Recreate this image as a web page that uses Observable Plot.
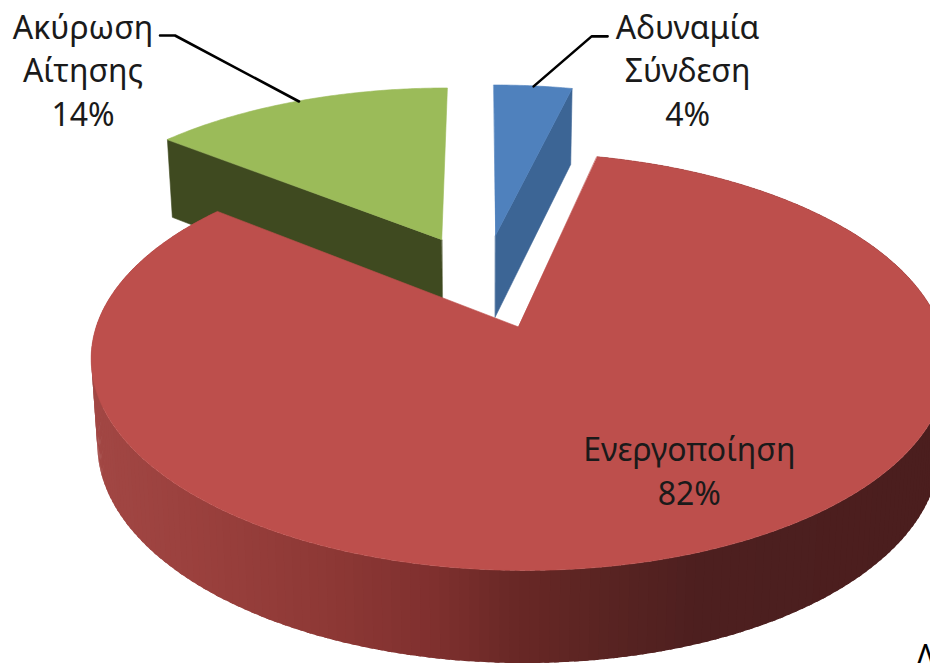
<!DOCTYPE html>
<html>
<head>
<meta charset="utf-8">
<script src="https://cdn.jsdelivr.net/npm/d3@7"></script>
<script src="https://cdn.jsdelivr.net/npm/@observablehq/plot@0.6"></script>
<style>
html,body{margin:0;padding:0;background:#fff;overflow:hidden}
svg{display:block}
</style>
</head>
<body>
<div id="chart"></div>
<script>
// Data: shares (labels are rounded to whole percent)
const categories = ["Αδυναμία\nΣύνδεση", "Ενεργοποίηση", "Ακύρωση\nΑίτησης"];
const shares = [3.7, 82.1, 14.2];
const topColors = ["#4f81bd", "#bd4f4c", "#9bbb59"];
const sideColors = ["#3c6595", null, "#3f4a20"];
const rimStops = [90, 200, 330, 430, 510, 600, 700, 930];
const rimColors = ["#a24744", "#9a403d", "#8d3835", "#80302f", "#6a2826", "#5a2422", "#4d1f1f", "#4b1e1e"];
const labelOffsets = [[154, -18], [2, -86], [-216, -33]];
const leaderOffsets = [[[58, -50], [74, -50]], null, [[-124, -66], [-139, -66]]];
const clippedText = "Λ";

// Projection of the tilted, exploded pie onto the chart's coordinate system
const view = {x0: 484, y0: 280.6, radius: 406, tilt: 188, perspective: 0.16, explode: 0.25, depth: 83, taper: 0.00019};
function project(X, Y, down = 0) {
  const s = 1 / (1 + view.perspective * Y);
  return {
    x: view.x0 + view.radius * X * s * (1 - view.taper * down),
    y: view.y0 - view.tilt * Y * s + down * Math.sqrt(s)
  };
}

const total = d3.sum(shares);
let cumulative = 0;
const slices = shares.map((v, i) => {
  const a0 = cumulative / total * 2 * Math.PI;
  cumulative += v;
  const a1 = cumulative / total * 2 * Math.PI;
  const mid = (a0 + a1) / 2;
  const cx = view.explode * Math.sin(mid), cy = view.explode * Math.cos(mid);
  const at = (a, down = 0) => project(cx + Math.sin(a), cy + Math.cos(a), down);
  return {i, a0, a1, mid, cx, cy, at, value: v, apex: project(cx, cy), apexDown: project(cx, cy, view.depth)};
});

// Top face of a slice: a fan from the apex to the arc
function fan(s) {
  const n = Math.ceil((s.a1 - s.a0) / 0.01);
  return d3.range(n + 1).map(k => {
    const p = s.at(s.a0 + (s.a1 - s.a0) * k / n);
    return {x1: p.x, y1: p.y, x2: s.apex.x, y2: s.apex.y};
  });
}
// Straight radial wall of a slice at angle a
function wall(s, a) {
  const t = s.at(a), b = s.at(a, view.depth);
  return [
    {x1: s.apex.x, y1: s.apex.y, x2: s.apexDown.x, y2: s.apexDown.y},
    {x1: t.x, y1: t.y, x2: b.x, y2: b.y}
  ];
}
// Banded outer rim of the big slice; each band runs under the next one, so no seams show
const rimColor = d3.scaleLinear().domain(rimStops).range(rimColors).clamp(true);
function rim(s) {
  const step = 0.02;
  const n = Math.ceil((s.a1 - s.a0) / step);
  const angle = k => s.a0 + (s.a1 - s.a0) * Math.min(k, n) / n;
  const out = [];
  for (let k = 0; k < n; k++) {
    const color = d3.color(rimColor(s.at(angle(k + 0.5)).x)).formatHex();
    for (const j of [0, 0.5, 1, 1.5]) {
      const t = s.at(angle(k + j)), d = s.at(angle(k + j), view.depth);
      out.push({band: k, color, x1: t.x, y1: t.y, x2: d.x, y2: d.y});
    }
  }
  return out;
}

const [blue, red, green] = slices;
const areaOpts = {x1: "x1", y1: "y1", x2: "x2", y2: "y2"};
const face = (rows, fill) => Plot.area(rows, {...areaOpts, fill, stroke: fill, strokeWidth: 0.6});

// Text and leaders hang off the midpoint of each slice's arc
const anchors = slices.map(s => s.at(s.mid));
const labels = slices.map((s, i) => ({
  x: anchors[i].x + labelOffsets[i][0],
  y: anchors[i].y + labelOffsets[i][1],
  text: `${categories[i]}\n${Math.round(s.value)}%`
}));
const leaders = slices.flatMap((s, i) => leaderOffsets[i]
  ? [anchors[i], ...leaderOffsets[i].map(o => ({x: anchors[i].x + o[0], y: anchors[i].y + o[1]}))].map(p => ({...p, id: i}))
  : []);

const plot = Plot.plot({
  width: 930,
  height: 663,
  margin: 0,
  x: {domain: [0, 930], range: [0, 930], axis: null},
  y: {domain: [0, 663], range: [0, 663], axis: null},
  color: {type: "identity"},
  style: {background: "#fff"},
  marks: [
    face(wall(green, green.a0), sideColors[2]),
    face(fan(green), topColors[2]),
    face(wall(blue, blue.a1), sideColors[0]),
    face(fan(blue), topColors[0]),
    Plot.area(rim(red), {...areaOpts, z: "band", fill: "color"}),
    face(fan(red), topColors[1]),
    Plot.line(leaders, {x: "x", y: "y", z: "id", stroke: "#000", strokeWidth: 2.6}),
    Plot.text(labels, {
      x: "x", y: "y", text: "text",
      fontFamily: "'Noto Sans'", fontSize: 32, lineHeight: 1.36, fill: "#1a1a1a"
    }),
    Plot.text([clippedText], {
      frameAnchor: "bottom-right", dx: -5, dy: -6, lineAnchor: "middle", textAnchor: "middle",
      fontFamily: "'Noto Sans'", fontSize: 32, fill: "#000"
    })
  ]
});
document.getElementById("chart").appendChild(plot);
</script>
</body>
</html>
